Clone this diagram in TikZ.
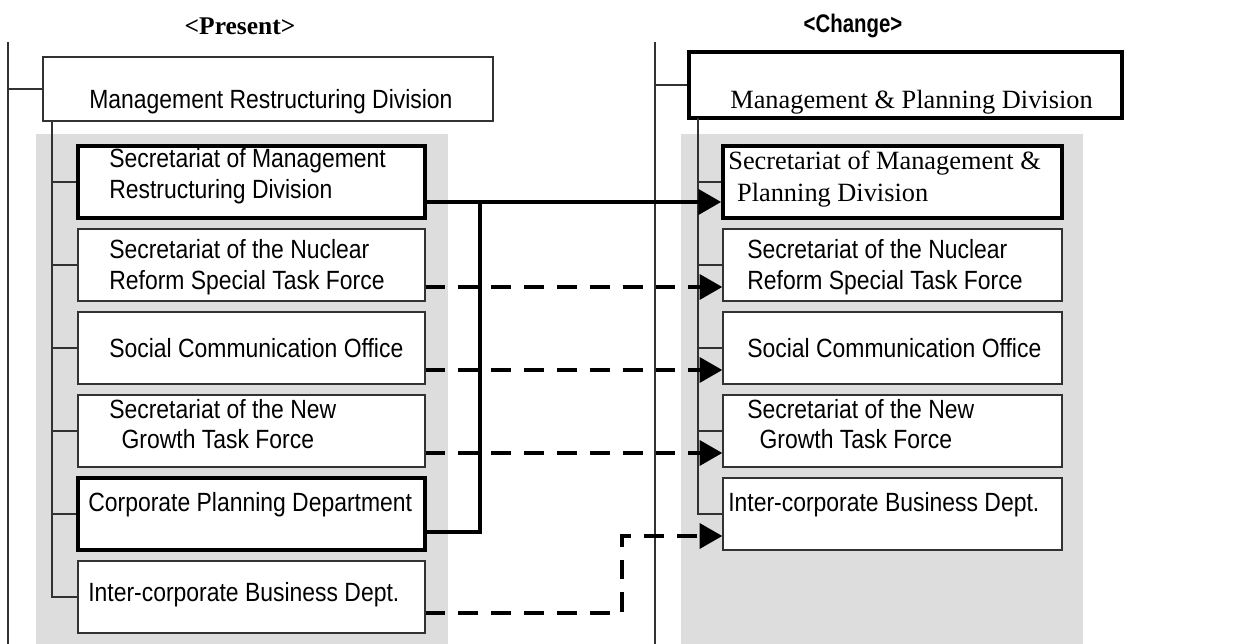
\documentclass[tikz,border=0pt]{standalone}
\usepackage{fontspec}
\setmainfont{Liberation Serif}
\newfontfamily\narrow[FakeStretch=0.87]{Liberation Sans}
\newfontfamily\narrowhead[FakeStretch=0.8]{Liberation Sans}
\usetikzlibrary{arrows.meta}
\definecolor{panelgray}{RGB}{221,221,221}
\definecolor{edge}{RGB}{50,50,50}

\tikzset{
  box/.style={draw=edge, line width=0.7pt, fill=white, inner sep=0pt},
  boldbox/.style={box, draw=black, line width=2pt},
  leftbox/.style={minimum width=6.94cm, minimum height=1.44cm},
  rightbox/.style={minimum width=6.78cm, minimum height=1.44cm},
  txt/.style={anchor=west, inner sep=0pt, align=left, font=\narrow\fontsize{15}{17.5}\selectfont},
  serif/.style={anchor=west, inner sep=0pt, align=left, font=\rmfamily\fontsize{15}{18}\selectfont},
  solidmove/.style={line width=2.8pt, -{Triangle[length=13pt,width=14pt]}},
  dashmove/.style={solidmove, dash pattern=on 11.3pt off 7.4pt}
}

\begin{document}
\begin{tikzpicture}[x=0.02cm, y=-0.02cm]
\useasboundingbox (0,0) rectangle (1235,644);

% grey panels
\fill[panelgray] (36,134) rectangle (448,644);
\fill[panelgray] (681,134) rectangle (1083,644);

% headings
\node[font=\rmfamily\bfseries\fontsize{14.5}{17}\selectfont] (present) at (240,26) {<Present>};
\node[font=\narrowhead\bfseries\fontsize{14.5}{17}\selectfont] (change) at (853,26) {<Change>};

% present
\node[box, minimum width=9cm, minimum height=1.28cm] (topL) at (268,89) {};
\node[boldbox, leftbox] (l1) at (251.5,182) {};
\node[box, leftbox] (l2) at (251.5,265) {};
\node[box, leftbox] (l3) at (251.5,348) {};
\node[box, leftbox] (l4) at (251.5,431) {};
\node[boldbox, leftbox] (l5) at (251.5,514) {};
\node[box, leftbox] (l6) at (251.5,597) {};

\node[txt] (tL) at (89,102) {Management Restructuring Division};
\node[txt] (t1) at (109,176) {Secretariat of Management\\Restructuring Division};
\node[txt] (t2) at (109,267) {Secretariat of the Nuclear\\Reform Special Task Force};
\node[txt] (t3) at (109,348) {Social Communication Office};
\node[txt] (t4) at (109,424) {Secretariat of the New\\\hspace{7pt}Growth Task Force};
\node[txt] (t5) at (88,505) {Corporate Planning Department};
\node[txt] (t6) at (88,595) {Inter-corporate Business Dept.};

% change
\node[boldbox, minimum width=8.66cm, minimum height=1.32cm] (topR) at (905.5,85) {};
\node[boldbox, rightbox] (r1) at (892.5,182) {};
\node[box, rightbox] (r2) at (892.5,265) {};
\node[box, rightbox] (r3) at (892.5,348) {};
\node[box, rightbox] (r4) at (892.5,431) {};
\node[box, rightbox] (r5) at (892.5,514) {};

\node[serif] (sR) at (730,102) {Management \& Planning Division};
\node[serif] (s1) at (728,179) {Secretariat of Management \&\\\hspace{5pt}Planning Division};
\node[txt] (s2) at (747,267) {Secretariat of the Nuclear\\Reform Special Task Force};
\node[txt] (s3) at (747,348) {Social Communication Office};
\node[txt] (s4) at (747,424) {Secretariat of the New\\\hspace{7pt}Growth Task Force};
\node[txt] (s5) at (728,505) {Inter-corporate Business Dept.};

% tree lines
\coordinate (spL) at (8,42);
\coordinate (spR) at (655,42);
\coordinate (trL) at (52,121);
\coordinate (trR) at (698,118);
\draw[edge, line width=0.7pt] (spL) -- (8,644) (spL |- topL.west) -- (topL.west);
\draw[edge, line width=0.7pt] (spR) -- (655,644) (spR |- topR.west) -- (topR.west);
\draw[edge, line width=0.7pt] (trL) -- (trL |- l6.west) -- (l6.west)
  (trL |- l1.west) -- (l1.west) (trL |- l2.west) -- (l2.west)
  (trL |- l3.west) -- (l3.west) (trL |- l4.west) -- (l4.west)
  (trL |- l5.west) -- (l5.west);
\draw[edge, line width=0.7pt] (trR) -- (trR |- r5.west) -- (r5.west)
  (trR |- r1.west) -- (r1.west) (trR |- r2.west) -- (r2.west)
  (trR |- r3.west) -- (r3.west) (trR |- r4.west) -- (r4.west);

% moves
\coordinate (y1) at (0,202);
\coordinate (y2) at (0,287);
\coordinate (y3) at (0,370);
\coordinate (y4) at (0,453);
\coordinate (y5) at (0,532);
\coordinate (y6) at (0,613);
\coordinate (jn) at (480,204);
\coordinate (bend) at (622,536);
\draw[solidmove] (l1.east |- y1) -- (r1.west |- y1);
\draw[line width=2.2pt] (l5.east |- y5) -| (jn);
\draw[dashmove] (l2.east |- y2) -- (r2.west |- y2);
\draw[dashmove] (l3.east |- y3) -- (r3.west |- y3);
\draw[dashmove] (l4.east |- y4) -- (r4.west |- y4);
\draw[dashmove] (l6.east |- y6) -| (bend) -- (r5.west |- bend);
\end{tikzpicture}
\end{document}
